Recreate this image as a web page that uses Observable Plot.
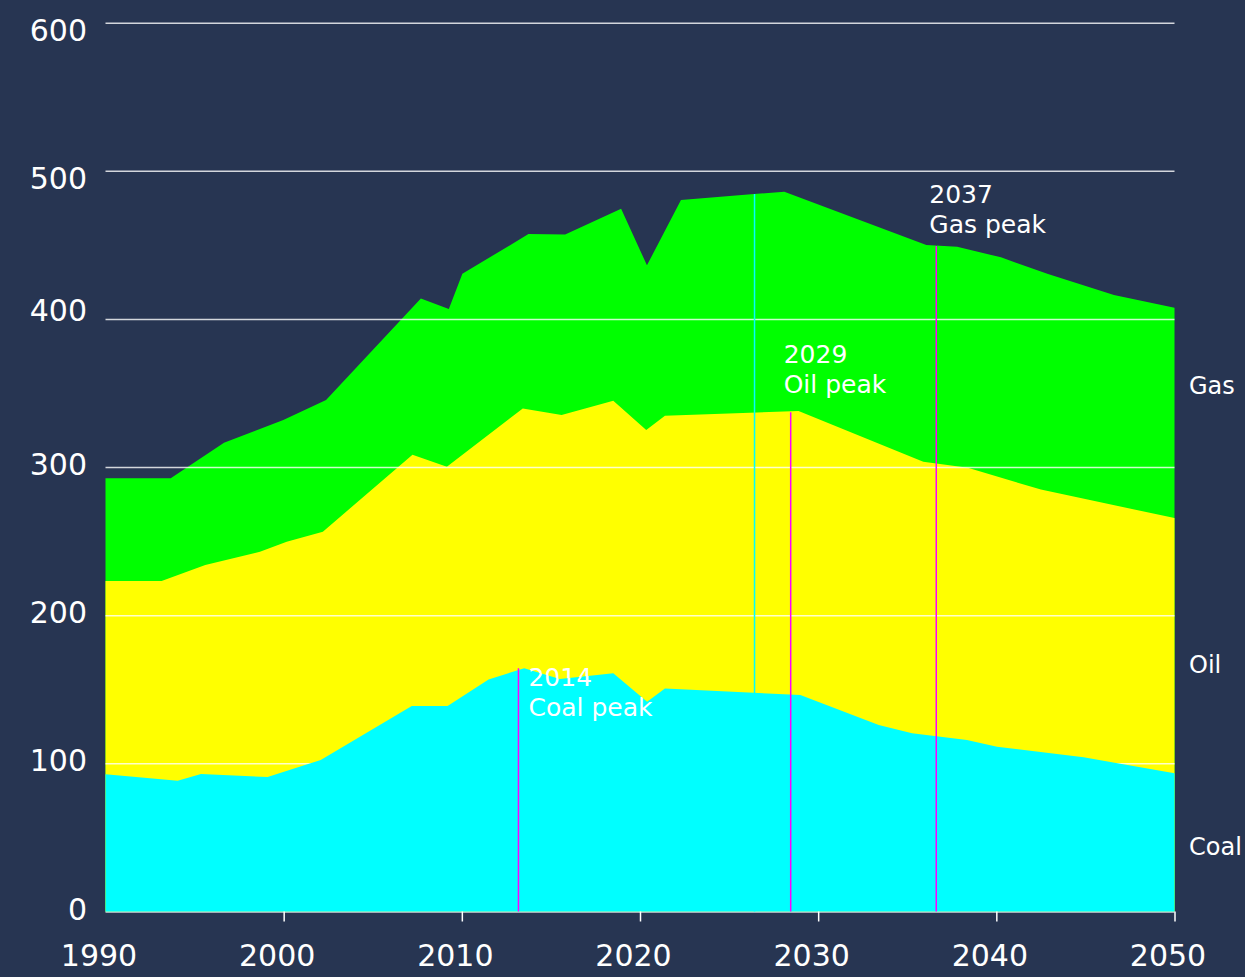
<!DOCTYPE html>
<html>
<head>
<meta charset="utf-8">
<script src="https://cdn.jsdelivr.net/npm/d3@7"></script>
<script src="https://cdn.jsdelivr.net/npm/@observablehq/plot@0.6"></script>
<style>
  html, body { margin: 0; padding: 0; background: #273552; }
  #chart svg { display: block; }
</style>
</head>
<body>
<div id="chart"></div>
<script>
// Cumulative tops (units on the y axis)
const totalYears = [1990, 1993.66, 1996.65, 1999.98, 2002.38, 2007.7, 2009.27, 2010.03, 2013.74, 2015.8, 2018.94, 2020.39, 2022.3, 2026.4, 2028.1, 2036.07, 2037.8, 2040.26, 2042.9, 2046.6, 2050];
const totalTop   = [292.4, 292.4, 316.4, 331.8, 345.3, 413.9, 406.7, 430.5, 457.3, 457.0, 474.4, 436.2, 480.3, 484.3, 485.9, 450.0, 448.7, 441.6, 430.3, 416.1, 407.6];

const oilYears   = [1990, 1993.15, 1995.6, 1998.67, 2000.17, 2002.2, 2007.23, 2009.16, 2013.42, 2015.6, 2018.5, 2020.35, 2021.4, 2028.9, 2035.9, 2038.4, 2042.5, 2050];
const coalOilTop = [223.1, 223.1, 233.9, 242.9, 249.6, 256.4, 308.3, 300.2, 339.6, 335.1, 344.8, 325.0, 334.7, 337.8, 303.6, 299.6, 284.8, 265.6];

const coalYears  = [1990, 1994.05, 1995.36, 1999.1, 2002.08, 2007.19, 2009.2, 2011.5, 2013.5, 2015.5, 2018.5, 2020.4, 2021.4, 2029.0, 2033.4, 2035.27, 2038.35, 2040.04, 2044.9, 2050];
const coalTop    = [92.6, 88.3, 92.8, 90.8, 102.3, 138.7, 138.7, 156.7, 164.2, 157.0, 160.8, 141.6, 150.6, 146.1, 125.9, 120.3, 115.8, 111.2, 104.1, 93.3];

// Peak markers
const peakYears  = [2013.15, 2028.43, 2036.6];
const peakTops   = [164.2, 337.0, 449.3];
const peakLabels = ["2014\nCoal peak", "2029\nOil peak", "2037\nGas peak"];

// Thin cyan marker line
const markerYear = 2026.4;

// Series labels at the right
const seriesNames  = ["Gas", "Oil", "Coal"];
const seriesLabelY = [354.7, 166.4, 43.7];

const xTicks = [1990, 2000, 2010, 2020, 2030, 2040, 2050];
const yTicks = [0, 100, 200, 300, 400, 500, 600];

const zip = (xs, ys) => xs.map((x, i) => ({x, y: ys[i]}));
const totalData = zip(totalYears, totalTop);
const oilData = zip(oilYears, coalOilTop);
const coalData = zip(coalYears, coalTop);
const peaks = peakYears.map((x, i) => ({x, y: peakTops[i], label: peakLabels[i]}));
const markerTop = totalTop[totalYears.indexOf(markerYear)];
const seriesLabels = seriesNames.map((name, i) => ({name, y: seriesLabelY[i]}));

const peakDy = [-4, -71, -65];
const peakDx = [10, -7, -7];

const yAxisStyle = {tickSize: 0, tickPadding: 19, tickFormat: d => String(d), fontSize: 30, fill: "white", label: null};

const chart = Plot.plot({
  width: 1245,
  height: 977,
  marginLeft: 105.5,
  marginRight: 70.5,
  marginTop: 22.7,
  marginBottom: 65.5,
  style: {background: "#273552", fontFamily: "'DejaVu Sans', sans-serif", color: "white"},
  x: {domain: [1990, 2050]},
  y: {domain: [0, 600]},
  marks: [
    Plot.areaY(totalData, {x: "x", y1: 0, y2: "y", fill: "#00ff00"}),
    Plot.areaY(oilData, {x: "x", y1: 0, y2: "y", fill: "#ffff00"}),
    Plot.ruleY(yTicks, {stroke: "white", strokeOpacity: 0.8, strokeWidth: 1.5}),
    Plot.ruleX([markerYear], {x: d => d, y1: 0, y2: markerTop, stroke: "#00ffff", strokeWidth: 1.5}),
    Plot.areaY(coalData, {x: "x", y1: 0, y2: "y", fill: "#00ffff"}),
    Plot.ruleX(peaks, {x: "x", y1: 0, y2: "y", stroke: "#ff00ff", strokeWidth: 1.5}),
    ...peaks.map((p, i) => Plot.text([p], {
      x: "x", y: "y", text: "label", textAnchor: "start", lineAnchor: "top",
      dx: peakDx[i], dy: peakDy[i], fontSize: 25, lineHeight: 1.2, fill: "white"
    })),
    Plot.text(seriesLabels, {x: () => 2050, y: "y", text: "name", textAnchor: "start", dx: 14, fontSize: 24, fill: "white"}),
    Plot.axisX(xTicks.filter(d => d > 1990), {tickSize: 10, tickFormat: () => "", stroke: "white", strokeWidth: 1.5, label: null}),
    Plot.axisX(xTicks, {tickSize: 0, tickPadding: 33, tickFormat: d => String(d), fontSize: 30, fill: "white", dx: -7, label: null}),
    Plot.axisY(yTicks.filter(d => d >= 500), {...yAxisStyle, dy: 8}),
    Plot.axisY(yTicks.filter(d => d === 400), {...yAxisStyle, dy: -8}),
    Plot.axisY(yTicks.filter(d => d < 400), {...yAxisStyle, dy: -2})
  ]
});
document.getElementById("chart").append(chart);
</script>
</body>
</html>
